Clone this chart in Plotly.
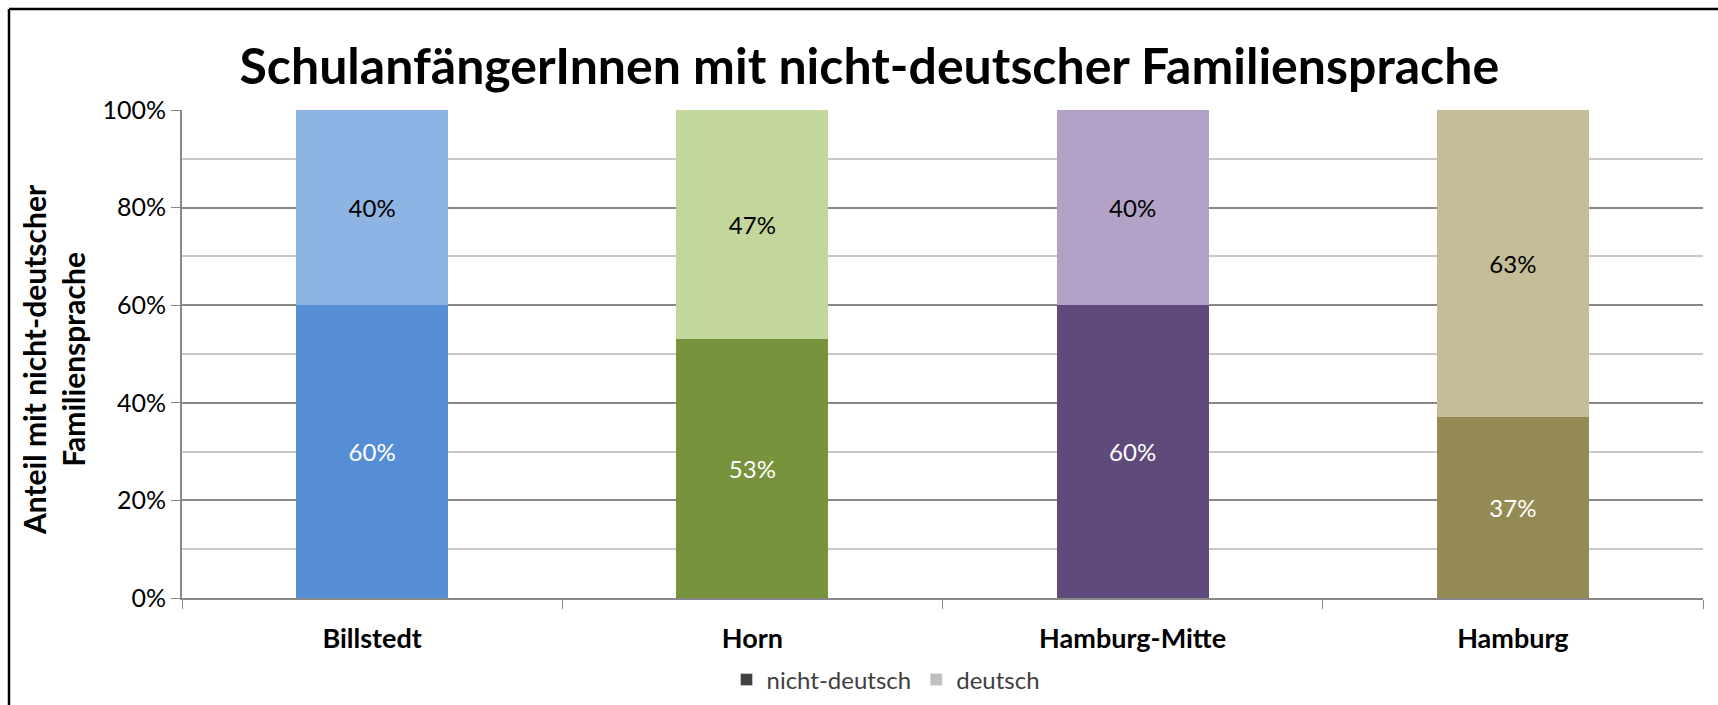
import plotly.graph_objects as go

categories = ["Billstedt", "Horn", "Hamburg-Mitte", "Hamburg"]
nicht_deutsch = [0.60, 0.53, 0.60, 0.37]
deutsch = [0.40, 0.47, 0.40, 0.63]
dark_colors = ["#558ED5", "#77933C", "#604A7B", "#948A54"]
light_colors = ["#8EB4E3", "#C3D69B", "#B3A2C7", "#C4BD97"]
y_ticks = [0, 0.2, 0.4, 0.6, 0.8, 1.0]

FONT = "Lato"
fig = go.Figure()
fig.add_trace(go.Bar(
    x=categories, y=nicht_deutsch, marker_color=dark_colors, showlegend=False,
    text=[f"{v:.0%}" for v in nicht_deutsch], textposition="inside",
    insidetextanchor="middle", textfont=dict(color="white", size=24, family=FONT),
    width=0.4, marker_line_width=0, hoverinfo="skip"))
fig.add_trace(go.Bar(
    x=categories, y=deutsch, marker_color=light_colors, showlegend=False,
    text=[f"{v:.0%}" for v in deutsch], textposition="inside",
    insidetextanchor="middle", textfont=dict(color="black", size=24, family=FONT),
    width=0.4, marker_line_width=0, hoverinfo="skip"))
fig.add_trace(go.Bar(x=[None], y=[None], name="nicht-deutsch", marker_color="#404040"))
fig.add_trace(go.Bar(x=[None], y=[None], name="deutsch", marker_color="#BFBFBF"))

fig.update_layout(
    barmode="stack",
    width=1718, height=705,
    paper_bgcolor="white", plot_bgcolor="white",
    margin=dict(l=182, r=15, t=110, b=107, autoexpand=False),
    font=dict(family=FONT, color="black"),
    title=dict(text="<b>SchulanfängerInnen mit nicht-deutscher Familiensprache</b>",
               x=0.506, xanchor="center", y=1 - 66 / 705, yanchor="middle",
               font=dict(size=50, family=FONT, color="black")),
    legend=dict(orientation="h", x=886 / 1718, xanchor="center", xref="container",
                y=1 - 680 / 705, yanchor="middle", yref="container",
                font=dict(size=24, family=FONT, color="#404040"),
                itemwidth=30, traceorder="normal"),
    xaxis=dict(
        type="category", categoryorder="array", categoryarray=categories,
        tickson="boundaries", ticks="outside", ticklen=9, tickcolor="#888888",
        showline=True, linecolor="#888888", linewidth=2, showgrid=False,
        tickfont=dict(size=27, family=FONT, color="black"),
        tickprefix="<b>", ticksuffix="</b>", ticklabelstandoff=16, automargin=False),
    yaxis=dict(
        range=[0, 1], tickvals=y_ticks, tickformat=".0%",
        ticks="outside", ticklen=9, tickcolor="#888888",
        showline=True, linecolor="#888888", linewidth=2,
        showgrid=True, gridcolor="#888888", gridwidth=1.5,
        minor=dict(dtick=0.1, showgrid=True, gridcolor="#C8C8C8", gridwidth=1.5),
        tickfont=dict(size=25, family=FONT, color="black"), zeroline=False,
        automargin=False),
)

fig.add_annotation(
    text="<b>Anteil mit nicht-deutscher<br>Familiensprache</b>",
    xref="paper", yref="paper", x=(53 - 182) / 1521, y=(598 - 360) / 488,
    xanchor="center", yanchor="middle", textangle=-90, showarrow=False,
    font=dict(size=30, family=FONT, color="black"))

fig.add_shape(type="line", xref="paper", yref="paper",
              x0=(9 - 182) / 1521, x1=(1718 - 182) / 1521,
              y0=(598 - 9) / 488, y1=(598 - 9) / 488,
              line=dict(color="black", width=2.5))
fig.add_shape(type="line", xref="paper", yref="paper",
              x0=(9 - 182) / 1521, x1=(9 - 182) / 1521,
              y0=(598 - 9) / 488, y1=(598 - 705) / 488,
              line=dict(color="black", width=2.5))

fig.write_html(
    "out.html",
    config={"displayModeBar": False},
    post_script="document.body.style.margin='0';document.body.style.overflow='hidden';",
)
